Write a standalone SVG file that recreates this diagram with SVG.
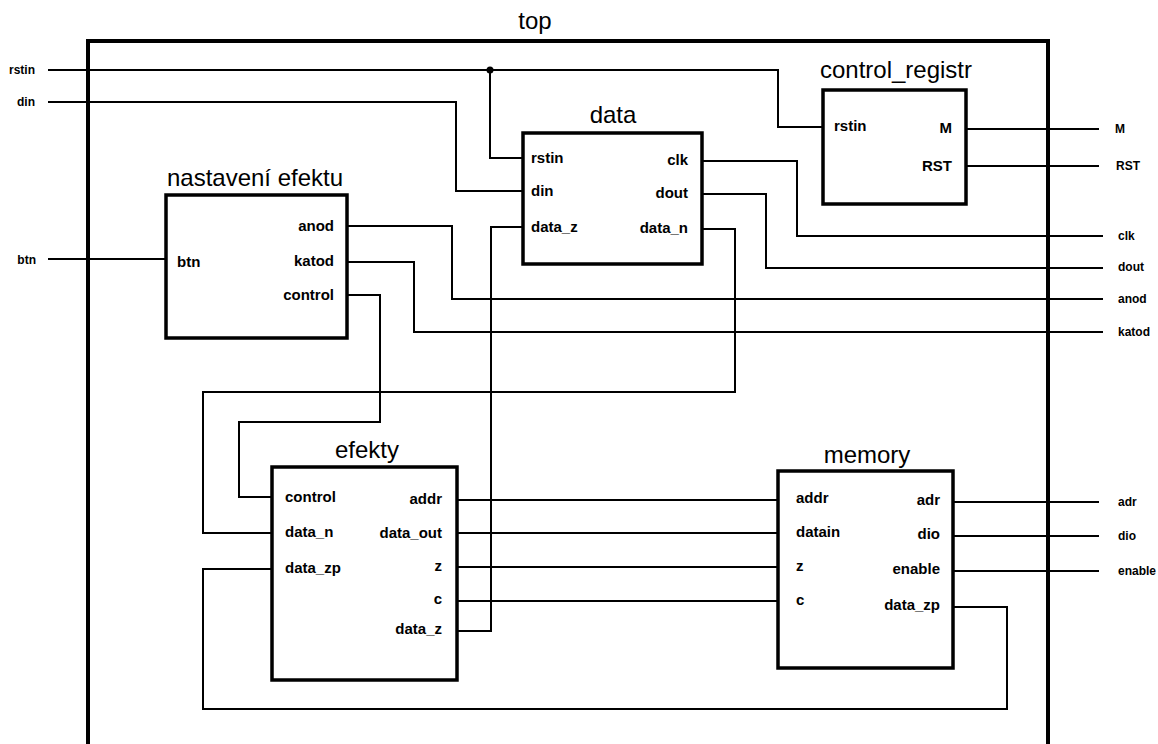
<svg xmlns="http://www.w3.org/2000/svg" width="1158" height="744" viewBox="0 0 1158 744">
<style>
  .frame{fill:none;stroke:#000;stroke-width:4}
  .box{fill:#fff;stroke:#000;stroke-width:3.5}
  .wire{fill:none;stroke:#000;stroke-width:2}
  .title{font-family:"Liberation Sans",Arial,sans-serif;font-size:24px;fill:#000;text-anchor:middle}
  .port{font-family:"Liberation Sans",Arial,sans-serif;font-size:15px;font-weight:bold;fill:#000}
  .ext{font-family:"Liberation Sans",Arial,sans-serif;font-size:12px;font-weight:bold;fill:#000}
  .r{text-anchor:end}
</style>
<rect width="1158" height="744" fill="#fff"/>
<g id="top">
  <rect class="frame" x="88" y="41" width="960" height="720"/>
  <text class="title" x="535" y="29">top</text>
</g>
<g id="connectors">
  <path class="wire" d="M48,70 H778 V127 H823"/>
  <path class="wire" d="M490,70 V158 H523"/>
  <circle cx="490" cy="70" r="3.5" fill="#000"/>
  <path class="wire" d="M48,102 H456 V191 H523"/>
  <path class="wire" d="M48,259 H166"/>
  <path class="wire" d="M702,161 H797 V236 H1103"/>
  <path class="wire" d="M702,194 H766 V268 H1103"/>
  <path class="wire" d="M702,229 H735 V392 H203 V533 H272"/>
  <path class="wire" d="M457,631 H491 V227 H523"/>
  <path class="wire" d="M347,226 H452 V299 H1103"/>
  <path class="wire" d="M347,262 H414 V332 H1103"/>
  <path class="wire" d="M347,295 H380 V422 H239 V497 H272"/>
  <path class="wire" d="M966,129 H1099"/>
  <path class="wire" d="M966,166 H1099"/>
  <path class="wire" d="M457,500 H778"/>
  <path class="wire" d="M457,533 H778"/>
  <path class="wire" d="M457,567 H778"/>
  <path class="wire" d="M457,601 H778"/>
  <path class="wire" d="M953,502 H1099"/>
  <path class="wire" d="M953,536 H1099"/>
  <path class="wire" d="M953,571 H1099"/>
  <path class="wire" d="M953,607 H1007 V709 H203 V569 H272"/>
</g>
<g id="external-labels">
  <text class="ext r" x="35" y="74">rstin</text>
  <text class="ext r" x="35" y="106">din</text>
  <text class="ext r" x="36" y="264">btn</text>
  <text class="ext" x="1115" y="133">M</text>
  <text class="ext" x="1116" y="170">RST</text>
  <text class="ext" x="1118" y="240">clk</text>
  <text class="ext" x="1118" y="271">dout</text>
  <text class="ext" x="1118" y="303">anod</text>
  <text class="ext" x="1118" y="336">katod</text>
  <text class="ext" x="1118" y="506">adr</text>
  <text class="ext" x="1118" y="540">dio</text>
  <text class="ext" x="1118" y="575">enable</text>
</g>
<g id="data">
  <rect class="box" x="523" y="133" width="179" height="131"/>
  <text class="title" x="613" y="123">data</text>
  <text class="port" x="531" y="163">rstin</text>
  <text class="port" x="531" y="196">din</text>
  <text class="port" x="531" y="232">data_z</text>
  <text class="port r" x="688" y="165">clk</text>
  <text class="port r" x="688" y="198">dout</text>
  <text class="port r" x="688" y="233">data_n</text>
</g>
<g id="control_registr">
  <rect class="box" x="823" y="90" width="143" height="114"/>
  <text class="title" x="896" y="78">control_registr</text>
  <text class="port" x="834" y="131">rstin</text>
  <text class="port r" x="952" y="133">M</text>
  <text class="port r" x="952" y="171">RST</text>
</g>
<g id="nastaveni_efektu">
  <rect class="box" x="166" y="195" width="181" height="143"/>
  <text class="title" x="255" y="186">nastavení efektu</text>
  <text class="port" x="177" y="267">btn</text>
  <text class="port r" x="334" y="231">anod</text>
  <text class="port r" x="334" y="266">katod</text>
  <text class="port r" x="334" y="300">control</text>
</g>
<g id="efekty">
  <rect class="box" x="272" y="467" width="185" height="213"/>
  <text class="title" x="367" y="458">efekty</text>
  <text class="port" x="285" y="502">control</text>
  <text class="port" x="285" y="537">data_n</text>
  <text class="port" x="285" y="573">data_zp</text>
  <text class="port r" x="442" y="504">addr</text>
  <text class="port r" x="442" y="538">data_out</text>
  <text class="port r" x="442" y="571">z</text>
  <text class="port r" x="442" y="604">c</text>
  <text class="port r" x="442" y="634">data_z</text>
</g>
<g id="memory">
  <rect class="box" x="778" y="471" width="175" height="197"/>
  <text class="title" x="867" y="463">memory</text>
  <text class="port" x="796" y="503">addr</text>
  <text class="port" x="796" y="537">datain</text>
  <text class="port" x="796" y="571">z</text>
  <text class="port" x="796" y="605">c</text>
  <text class="port r" x="940" y="505">adr</text>
  <text class="port r" x="940" y="539">dio</text>
  <text class="port r" x="940" y="574">enable</text>
  <text class="port r" x="940" y="610">data_zp</text>
</g>
</svg>
